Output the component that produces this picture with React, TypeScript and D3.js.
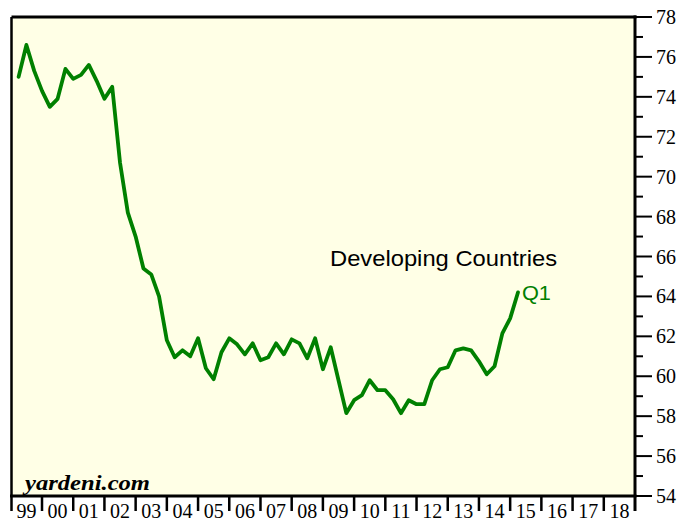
import React from "react";
import * as d3 from "d3";

const START_YEAR = 1999;
const END_YEAR = 2019;
const yearLabels = ["99","00","01","02","03","04","05","06","07","08","09","10","11","12","13","14","15","16","17","18"];
const yTicks = [54,56,58,60,62,64,66,68,70,72,74,76,78];
const yMinor = [55,57,59,61,63,65,67,69,71,73,75,77];
// Quarterly values, 1999 Q1 .. 2015 Q1
const values = [
  75.0, 76.6, 75.3, 74.3,
  73.5, 73.9, 75.4, 74.9,
  75.1, 75.6, 74.8, 73.9,
  74.5, 70.7, 68.2, 67.0,
  65.4, 65.1, 64.0, 61.8,
  60.95, 61.3, 61.0, 61.9,
  60.4, 59.85, 61.2, 61.9,
  61.6, 61.1, 61.65, 60.8,
  60.95, 61.65, 61.1, 61.85,
  61.65, 60.9, 61.9, 60.35,
  61.45, 59.8, 58.15, 58.8,
  59.05, 59.8, 59.3, 59.3,
  58.85, 58.15, 58.8, 58.6,
  58.6, 59.8, 60.35, 60.45,
  61.3, 61.4, 61.3, 60.75,
  60.1, 60.5, 62.15, 62.9,
  64.2
];
const seriesName = "Developing Countries";
const lastLabel = "Q1";

export default function App() {
  const W = 698, H = 529;
  const left = 10.8, right = 635, top = 17, bottom = 496;
  const x = d3.scaleLinear().domain([START_YEAR, END_YEAR]).range([left, right]);
  const y = d3.scaleLinear().domain([54, 78]).range([bottom, top]);
  const pts = values.map((v, i) => [START_YEAR + 0.25 * (i + 1), v] as [number, number]);
  const line = d3.line<[number, number]>().x(d => x(d[0])).y(d => y(d[1]));
  const years = d3.range(START_YEAR, END_YEAR + 1);
  const last = pts[pts.length - 1];
  return (
    <svg width={W} height={H} style={{ position: "fixed", top: 0, left: 0, background: "#fff" }}>
      <rect x={11.5} y={top} width={right - 11.5} height={bottom - top} fill="#ffffe6" />
      <path d={line(pts) || ""} fill="none" stroke="#008000" strokeWidth={3.8} strokeLinejoin="round" strokeLinecap="round" />
      {/* borders */}
      <line x1={11.5} x2={right + 1.5} y1={top} y2={top} stroke="#000" strokeWidth={3} />
      <line x1={11.5} x2={11.5} y1={top} y2={511} stroke="#000" strokeWidth={2.5} />
      <line x1={10} x2={right + 1.5} y1={bottom} y2={bottom} stroke="#000" strokeWidth={3} />
      <line x1={right} x2={right} y1={top - 1.5} y2={511} stroke="#000" strokeWidth={3} />
      {/* bottom ticks */}
      {years.slice(1, -1).map(yr => (
        <line key={yr} x1={x(yr)} x2={x(yr)} y1={bottom} y2={511} stroke="#000" strokeWidth={2.5} />
      ))}
      {yearLabels.map((lab, i) => (
        <text key={lab} x={x(START_YEAR + i + 0.5)} y={518} textAnchor="middle"
          fontFamily="'Liberation Serif', 'Times New Roman', serif" fontSize={20} fill="#000">{lab}</text>
      ))}
      {/* right axis */}
      {yTicks.map(t => (
        <g key={t}>
          <line x1={right} x2={652} y1={y(t)} y2={y(t)} stroke="#000" strokeWidth={2} />
          <text x={656} y={y(t)} dy="0.35em" fontFamily="'Liberation Serif', 'Times New Roman', serif" fontSize={20} fill="#000">{t}</text>
        </g>
      ))}
      {yMinor.map(t => (
        <line key={t} x1={right} x2={643} y1={y(t)} y2={y(t)} stroke="#000" strokeWidth={2} />
      ))}
      <text x={330} y={266} fontFamily="'Liberation Sans', Arial, sans-serif" fontSize={21.5} fill="#000"
        textLength={227} lengthAdjust="spacingAndGlyphs">{seriesName}</text>
      <text x={x(last[0]) + 4} y={y(last[1]) + 8} fontFamily="'Liberation Sans', Arial, sans-serif" fontSize={20} fill="#008000"
        textLength={29} lengthAdjust="spacingAndGlyphs">{lastLabel}</text>
      <text x={25} y={490} fontFamily="'Liberation Serif', 'Times New Roman', serif" fontStyle="italic" fontWeight="bold"
        fontSize={20} textLength={125} lengthAdjust="spacingAndGlyphs" fill="#000">yardeni.com</text>
    </svg>
  );
}
